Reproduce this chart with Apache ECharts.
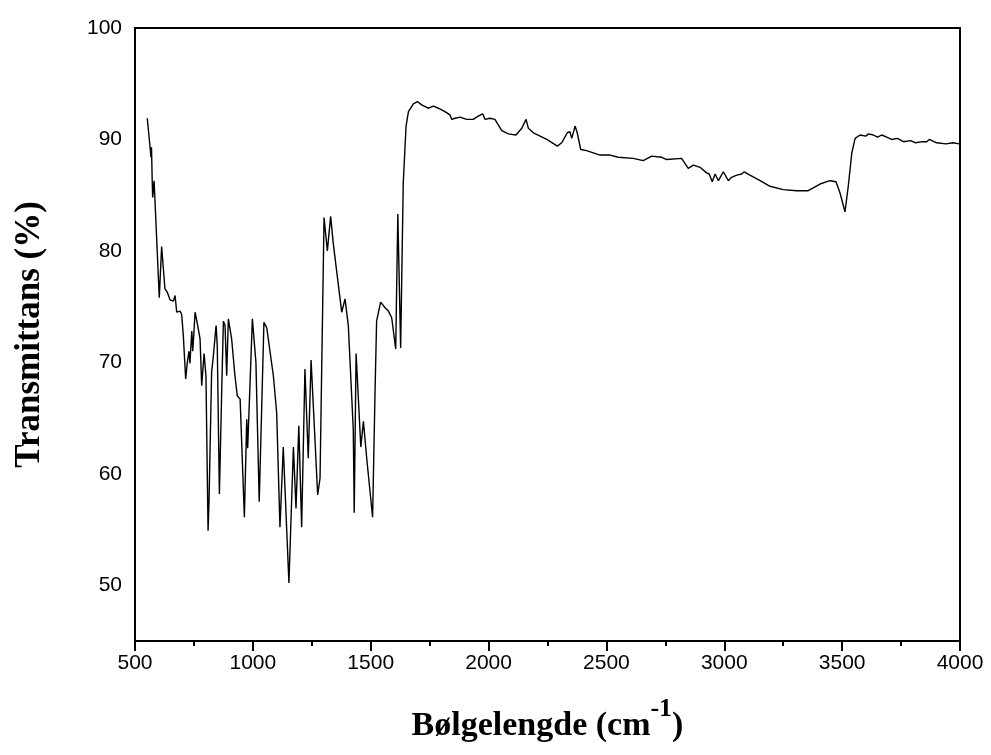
<!DOCTYPE html>
<html>
<head>
<meta charset="utf-8">
<script src="https://cdn.jsdelivr.net/npm/echarts@6/dist/echarts.min.js"></script>
<style>
  html, body { margin: 0; padding: 0; background: #fff; }
  #main { width: 991px; height: 755px; }
</style>
</head>
<body>
<div id="main"></div>
<script>
// wavenumbers (cm-1)
var wavenumber = [
  552, 564, 568, 570, 573, 575, 581, 603, 613, 627, 637, 649, 663, 670, 677, 691, 698, 705,
  715, 722, 729, 733, 741, 745, 755, 766, 776, 783, 793, 801, 810, 814, 825, 832, 844, 849,
  858, 868, 875, 882, 889, 896, 910, 924, 934, 946, 964, 974, 978, 998, 1013, 1027, 1047,
  1059, 1087, 1101, 1115, 1129, 1153, 1172, 1183, 1195, 1207, 1221, 1235, 1247, 1275, 1285,
  1291, 1302, 1316, 1330, 1341, 1356, 1377, 1391, 1405, 1426, 1430, 1438, 1458, 1469, 1483,
  1508, 1518, 1525, 1542, 1561, 1575, 1589, 1596, 1606, 1615, 1627, 1638, 1650, 1660, 1681,
  1698, 1716, 1744, 1766, 1787, 1815, 1836, 1844, 1858, 1865, 1879, 1907, 1935, 1956, 1975,
  1985, 2006, 2027, 2056, 2084, 2116, 2141, 2159, 2169, 2190, 2247, 2292, 2310, 2334, 2345,
  2353, 2367, 2376, 2391, 2416, 2473, 2515, 2550, 2614, 2656, 2692, 2735, 2756, 2819, 2847,
  2869, 2897, 2925, 2936, 2949, 2961, 2975, 2982, 2996, 3017, 3031, 3053, 3074, 3084, 3109,
  3152, 3194, 3250, 3307, 3356, 3406, 3448, 3474, 3491, 3512, 3526, 3541, 3555, 3576, 3600,
  3612, 3632, 3650, 3668, 3689, 3710, 3735, 3760, 3790, 3812, 3840, 3859, 3870, 3901, 3940,
  3970, 3997
];
// transmittance (%)
var transmittance = [
  91.9, 89.3, 88.4, 89.3, 86.3, 84.8, 86.3, 75.8, 80.4, 76.6, 76.3, 75.6, 75.5, 76.0, 74.5, 74.6, 74.3, 72.4,
  68.5, 70.0, 71.0, 69.9, 72.8, 71.0, 74.5, 73.3, 72.1, 67.9, 70.8, 68.8, 54.9, 57.5, 69.1, 70.5, 73.3, 71.5,
  58.2, 67.6, 73.7, 73.3, 68.8, 73.9, 72.1, 68.8, 67.0, 66.7, 56.1, 64.9, 62.3, 73.9, 70.0, 57.5, 73.6,
  73.1, 68.8, 65.5, 55.2, 62.4, 50.2, 62.4, 56.9, 64.3, 55.2, 69.4, 61.4, 70.2, 58.1, 59.6,
  68.0, 83.0, 80.0, 83.1, 80.7, 78.1, 74.5, 75.7, 73.3, 64.0, 56.5, 70.8, 62.4, 64.7, 61.4,
  56.1, 67.0, 73.7, 75.4, 74.9, 74.6, 74.0, 73.9, 71.2, 83.3, 71.3, 86.1, 91.2, 92.5, 93.2,
  93.4, 93.1, 92.8, 93.0, 92.8, 92.5, 92.2, 91.8, 91.9, 91.8, 92.0, 91.8, 91.8, 92.1, 92.3,
  91.8, 91.9, 91.8, 90.8, 90.5, 90.4, 91.0, 91.8, 91.0, 90.6, 90.0, 89.4, 89.7, 90.6, 90.7,
  90.1, 91.2, 90.6, 89.1, 89.0, 88.6, 88.6, 88.4, 88.3, 88.1, 88.5, 88.4, 88.2, 88.3, 87.4,
  87.7, 87.5, 87.0, 86.9, 86.2, 86.9, 86.3, 86.4, 87.1, 86.3, 86.6, 86.8, 86.9, 87.1, 86.8,
  86.3, 85.8, 85.5, 85.4, 85.4, 86.0, 86.3, 86.2, 85.2, 83.5, 85.8, 88.8, 90.1, 90.4, 90.3,
  90.5, 90.4, 90.2, 90.4, 90.2, 90.0, 90.1, 89.8, 89.9, 89.7, 89.8, 89.8, 90.0, 89.7, 89.6,
  89.7, 89.6
];
var xTicks = [500, 4000, 500];   // min, max, step
var yTicks = [45, 100, 5];

var chart = echarts.init(document.getElementById('main'));

var serif = '"Liberation Serif", "Times New Roman", serif';
var sans = '"Liberation Sans", Arial, sans-serif';

chart.setOption({
  animation: false,
  grid: {
    left: 135,
    right: 31,
    top: 28,
    bottom: 114,
    show: true,
    borderColor: '#000',
    borderWidth: 2
  },
  xAxis: {
    type: 'value',
    min: xTicks[0],
    max: xTicks[1],
    interval: xTicks[2],
    name: '{t|Bølgelengde (cm}{s|-1}{t|)}',
    nameLocation: 'middle',
    nameGap: 55,
    nameTextStyle: {
      rich: {
        t: { fontFamily: serif, fontWeight: 'bold', fontSize: 34, color: '#000' },
        s: { fontFamily: serif, fontWeight: 'bold', fontSize: 26, color: '#000', padding: [0, 0, 34, 0] }
      }
    },
    axisLine: { lineStyle: { color: '#000', width: 2 } },
    axisTick: { length: 10, lineStyle: { color: '#000', width: 2 } },
    minorTick: { show: true, splitNumber: 2, length: 5, lineStyle: { color: '#000', width: 2 } },
    splitLine: { show: false },
    axisLabel: {
      color: '#000', fontFamily: sans, fontSize: 21, margin: 12,
      formatter: function (v) { return String(v); }
    }
  },
  yAxis: {
    type: 'value',
    min: yTicks[0],
    max: yTicks[1],
    interval: yTicks[2],
    name: 'Transmittans (%)',
    nameLocation: 'middle',
    nameGap: 88,
    nameTextStyle: { fontFamily: serif, fontWeight: 'bold', fontSize: 35, color: '#000' },
    axisLine: { show: true, lineStyle: { color: '#000', width: 2 } },
    axisTick: { show: false },
    splitLine: { show: false },
    axisLabel: {
      color: '#000', fontFamily: sans, fontSize: 21, margin: 13,
      formatter: function (v) { return v % 10 === 0 ? String(v) : ''; }
    }
  },
  series: [{
    type: 'line',
    data: wavenumber.map(function (w, i) { return [w, transmittance[i]]; }),
    symbol: 'none',
    lineStyle: { color: '#000', width: 1.4 }
  }]
});
</script>
</body>
</html>
